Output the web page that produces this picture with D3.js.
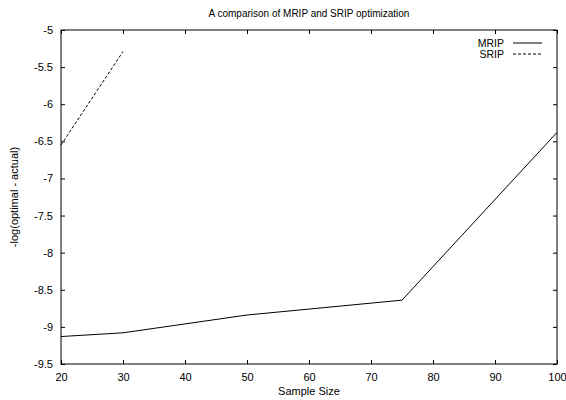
<!DOCTYPE html>
<html>
<head>
<meta charset="utf-8">
<script src="https://cdnjs.cloudflare.com/ajax/libs/d3/7.8.5/d3.min.js"></script>
<style>
  body { margin: 0; background: #fff; }
  svg text { font-family: "Liberation Sans", Arial, sans-serif; fill: #000; }
</style>
</head>
<body>
<div id="chart"></div>
<script>
const mripX = [20, 30, 50, 75, 100];
const mripY = [-9.13, -9.08, -8.84, -8.64, -6.38];
const sripX = [20, 30];
const sripY = [-6.55, -5.29];
const xTicks = [20, 30, 40, 50, 60, 70, 80, 90, 100];
const yTicks = [-5, -5.5, -6, -6.5, -7, -7.5, -8, -8.5, -9, -9.5];
const seriesNames = ["MRIP", "SRIP"];

const W = 566, H = 400;
const margin = { top: 30, right: 9, bottom: 36, left: 61 };
const width = W - margin.left - margin.right;
const height = H - margin.top - margin.bottom;

const svg = d3.select("#chart").append("svg")
    .attr("width", W).attr("height", H);

const g = svg.append("g")
    .attr("transform", `translate(${margin.left}, ${margin.top})`);

const xScale = d3.scaleLinear().domain([20, 100]).range([0, width]);
const yScale = d3.scaleLinear().domain([-9.5, -5]).range([height, 0]);

// ticks on all four sides, pointing inward
g.append("g")
    .attr("transform", `translate(0, ${height})`)
    .call(d3.axisBottom(xScale).tickValues(xTicks).tickSizeInner(-4).tickSizeOuter(0).tickPadding(9).tickFormat(d3.format("d")));
g.append("g")
    .call(d3.axisTop(xScale).tickValues(xTicks).tickSizeInner(-4).tickSizeOuter(0).tickFormat(""));
g.append("g")
    .call(d3.axisLeft(yScale).tickValues(yTicks).tickSizeInner(-4).tickSizeOuter(0).tickPadding(8).tickFormat(d => d3.format("")(d).replace("\u2212", "-")));
g.append("g")
    .attr("transform", `translate(${width}, 0)`)
    .call(d3.axisRight(yScale).tickValues(yTicks).tickSizeInner(-4).tickSizeOuter(0).tickFormat(""));

g.selectAll(".domain").remove();
g.selectAll(".tick line").style("stroke", "#000").style("stroke-width", 1);
g.selectAll(".tick text").style("font-size", "11px");

g.append("rect")
    .attr("x", 0).attr("y", 0)
    .attr("width", width).attr("height", height)
    .attr("fill", "none").attr("stroke", "#000").attr("stroke-width", 1);

const line = d3.line().x(d => xScale(d[0])).y(d => yScale(d[1]));

g.append("path")
    .datum(d3.zip(mripX, mripY))
    .attr("d", line)
    .attr("fill", "none").attr("stroke", "#000").attr("stroke-width", 1);

g.append("path")
    .datum(d3.zip(sripX, sripY))
    .attr("d", line)
    .attr("fill", "none").attr("stroke", "#000").attr("stroke-width", 1)
    .attr("stroke-dasharray", "3,2");

// legend
seriesNames.forEach((name, i) => {
    const ly = 13 + i * 11;
    g.append("text")
        .attr("x", width - 53)
        .attr("y", ly)
        .attr("dy", "0.35em")
        .style("text-anchor", "end")
        .style("font-size", "10.5px")
        .text(name);
    g.append("line")
        .attr("x1", width - 44).attr("x2", width - 15)
        .attr("y1", ly).attr("y2", ly)
        .attr("stroke", "#000").attr("stroke-width", 1)
        .attr("stroke-dasharray", i === 1 ? "3,2" : null);
});

svg.append("text")
    .attr("x", margin.left + width / 2)
    .attr("y", 17)
    .style("text-anchor", "middle")
    .style("font-size", "10px")
    .text("A comparison of MRIP and SRIP optimization");

svg.append("text")
    .attr("x", margin.left + width / 2)
    .attr("y", 395)
    .style("text-anchor", "middle")
    .style("font-size", "11px")
    .text("Sample Size");

svg.append("text")
    .attr("transform", "rotate(-90)")
    .attr("x", -(margin.top + height / 2))
    .attr("y", 18)
    .style("text-anchor", "middle")
    .style("font-size", "11px")
    .text("-log(optimal - actual)");
</script>
</body>
</html>
